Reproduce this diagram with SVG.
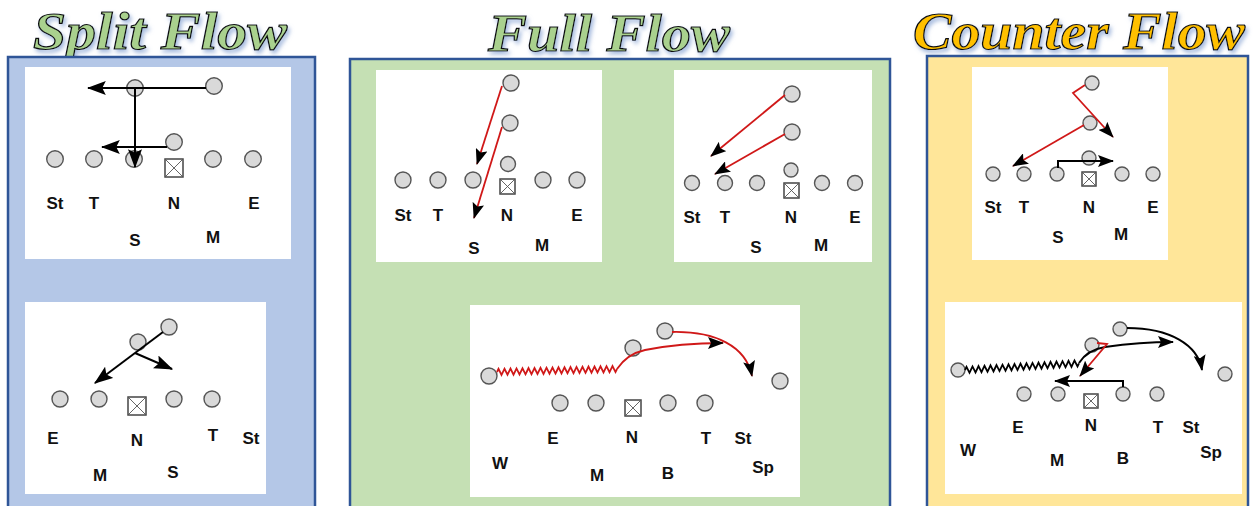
<svg xmlns="http://www.w3.org/2000/svg" width="1256" height="506" viewBox="0 0 1256 506">
<defs>
<style>
.title{font-family:"Liberation Serif","Times New Roman",serif;font-weight:bold;font-style:italic;font-size:53px;stroke:#111;stroke-width:1.2}
.lbl{font-family:"Liberation Sans",Arial,sans-serif;font-weight:bold;font-size:17px;fill:#111;text-anchor:middle}
.p{fill:#d9d9d9;stroke:#555;stroke-width:1.4}
.sq{fill:#fff;stroke:#444;stroke-width:1.5}
.x{stroke:#555;stroke-width:0.9}
.card{fill:#fff}
.blk{fill:none;stroke:#000;stroke-width:2}
.red{fill:none;stroke:#d01818;stroke-width:1.8}
</style>
<marker id="ah" viewBox="0 0 16 10" preserveAspectRatio="none" markerWidth="19" markerHeight="14" refX="15" refY="5" orient="auto" markerUnits="userSpaceOnUse"><path d="M0,0 L16,5 L0,10 L3,5 z" fill="#000"/></marker>
<marker id="ahs" viewBox="0 0 16 10" preserveAspectRatio="none" markerWidth="16" markerHeight="12" refX="15" refY="5" orient="auto" markerUnits="userSpaceOnUse"><path d="M0,0 L16,5 L0,10 L3,5 z" fill="#000"/></marker>
<filter id="glow" filterUnits="userSpaceOnUse" x="0" y="0" width="1256" height="70">
<feGaussianBlur in="SourceAlpha" stdDeviation="2"/>
<feOffset dx="2" dy="3" result="b"/>
<feFlood flood-color="#8fa9d6" flood-opacity="0.8"/>
<feComposite in2="b" operator="in" result="s"/>
<feMerge><feMergeNode in="s"/><feMergeNode in="SourceGraphic"/></feMerge>
</filter>
</defs>
<rect width="1256" height="506" fill="#fff"/>

<!-- Titles -->
<text class="title" x="33" y="49" textLength="254" lengthAdjust="spacingAndGlyphs" fill="#a9d18e" filter="url(#glow)">Split Flow</text>
<text class="title" x="488" y="51" textLength="242" lengthAdjust="spacingAndGlyphs" fill="#a9d18e" filter="url(#glow)">Full Flow</text>
<text class="title" x="913" y="49" textLength="332" lengthAdjust="spacingAndGlyphs" fill="#ffc000" filter="url(#glow)">Counter Flow</text>

<!-- Section boxes -->
<rect x="8" y="57" width="307" height="460" fill="#b4c7e7" stroke="#2f5597" stroke-width="2.5"/>
<rect x="350" y="59" width="540" height="460" fill="#c5e0b4" stroke="#2f5597" stroke-width="2.5"/>
<rect x="927" y="56" width="321" height="460" fill="#ffe699" stroke="#2f5597" stroke-width="2.5"/>

<!-- Split Flow top -->
<g id="split-top">
<rect class="card" x="25" y="67" width="266" height="192"/>
<g id="st-St"><circle class="p" cx="55" cy="159" r="8.3"/></g>
<g id="st-T"><circle class="p" cx="94" cy="159" r="8.3"/></g>
<g id="st-S"><circle class="p" cx="134" cy="159" r="8.3"/></g>
<g id="st-M"><circle class="p" cx="213" cy="159" r="8.3"/></g>
<g id="st-E"><circle class="p" cx="253" cy="159" r="8.3"/></g>
<g id="st-C"><rect class="sq" x="165" y="159" width="18" height="18"/><path class="x" d="M165,159L183,177M183,159L165,177"/></g>
<g id="st-B1"><circle class="p" cx="135" cy="88" r="8.3"/></g>
<g id="st-B2"><circle class="p" cx="214" cy="86" r="8.3"/></g>
<g id="st-B3"><circle class="p" cx="174" cy="142" r="8.3"/></g>
<text class="lbl" x="55" y="209">St</text><text class="lbl" x="94" y="209">T</text><text class="lbl" x="174" y="209">N</text><text class="lbl" x="254" y="209">E</text>
<text class="lbl" x="135" y="246">S</text><text class="lbl" x="213" y="243">M</text>
</g>

<!-- Split Flow bottom -->
<g id="split-bottom">
<rect class="card" x="25" y="302" width="241" height="192"/>
<g id="sb-E"><circle class="p" cx="60" cy="399" r="8"/></g>
<g id="sb-M"><circle class="p" cx="99" cy="399" r="8"/></g>
<g id="sb-S"><circle class="p" cx="174" cy="399" r="8"/></g>
<g id="sb-T"><circle class="p" cx="212" cy="399" r="8"/></g>
<g id="sb-C"><rect class="sq" x="128" y="397" width="18" height="18"/><path class="x" d="M128,397L146,415M146,397L128,415"/></g>
<g id="sb-B1"><circle class="p" cx="169" cy="327" r="8"/></g>
<g id="sb-B2"><circle class="p" cx="138" cy="342" r="8"/></g>
<text class="lbl" x="53" y="444">E</text><text class="lbl" x="137" y="446">N</text><text class="lbl" x="213" y="441">T</text><text class="lbl" x="251" y="444">St</text>
<text class="lbl" x="100" y="481">M</text><text class="lbl" x="173" y="478">S</text>
</g>

<!-- Full Flow top-left -->
<g id="full-top-left">
<rect class="card" x="376" y="70" width="226" height="192"/>
<g id="ftl-St"><circle class="p" cx="403" cy="180" r="8"/></g>
<g id="ftl-T"><circle class="p" cx="438" cy="180" r="8"/></g>
<g id="ftl-S"><circle class="p" cx="473" cy="180" r="8"/></g>
<g id="ftl-M"><circle class="p" cx="543" cy="180" r="8"/></g>
<g id="ftl-E"><circle class="p" cx="577" cy="180" r="8"/></g>
<g id="ftl-C"><rect class="sq" x="500" y="179" width="15" height="15"/><path class="x" d="M500,179L515,194M515,179L500,194"/></g>
<g id="ftl-Q"><circle class="p" cx="508" cy="164" r="7.5"/></g>
<g id="ftl-B1"><circle class="p" cx="511" cy="83" r="8"/></g>
<g id="ftl-B2"><circle class="p" cx="510" cy="123" r="8"/></g>
<text class="lbl" x="403" y="221">St</text><text class="lbl" x="438" y="221">T</text><text class="lbl" x="507" y="221">N</text><text class="lbl" x="577" y="221">E</text>
<text class="lbl" x="474" y="254">S</text><text class="lbl" x="542" y="251">M</text>
</g>

<!-- Full Flow top-right -->
<g id="full-top-right">
<rect class="card" x="674" y="70" width="198" height="192"/>
<g id="ftr-St"><circle class="p" cx="692" cy="183" r="7.5"/></g>
<g id="ftr-T"><circle class="p" cx="725" cy="183" r="7.5"/></g>
<g id="ftr-S"><circle class="p" cx="757" cy="183" r="7.5"/></g>
<g id="ftr-M"><circle class="p" cx="822" cy="183" r="7.5"/></g>
<g id="ftr-E"><circle class="p" cx="855" cy="183" r="7.5"/></g>
<g id="ftr-C"><rect class="sq" x="784" y="183" width="15" height="15"/><path class="x" d="M784,183L799,198M799,183L784,198"/></g>
<g id="ftr-Q"><circle class="p" cx="791" cy="170" r="7"/></g>
<g id="ftr-B1"><circle class="p" cx="792" cy="94" r="8"/></g>
<g id="ftr-B2"><circle class="p" cx="792" cy="132" r="8"/></g>
<text class="lbl" x="692" y="223">St</text><text class="lbl" x="725" y="223">T</text><text class="lbl" x="791" y="223">N</text><text class="lbl" x="855" y="223">E</text>
<text class="lbl" x="756" y="253">S</text><text class="lbl" x="821" y="251">M</text>
</g>

<!-- Full Flow bottom -->
<g id="full-bottom">
<rect class="card" x="470" y="305" width="330" height="192"/>
<g id="fb-E"><circle class="p" cx="560" cy="403" r="8"/></g>
<g id="fb-M"><circle class="p" cx="596" cy="403" r="8"/></g>
<g id="fb-B"><circle class="p" cx="668" cy="403" r="8"/></g>
<g id="fb-T"><circle class="p" cx="705" cy="403" r="8"/></g>
<g id="fb-C"><rect class="sq" x="625" y="400" width="16" height="16"/><path class="x" d="M625,400L641,416M641,400L625,416"/></g>
<g id="fb-W"><circle class="p" cx="489" cy="376" r="8"/></g>
<g id="fb-Sp"><circle class="p" cx="780" cy="381" r="8"/></g>
<g id="fb-Q1"><circle class="p" cx="633" cy="348" r="8"/></g>
<g id="fb-Q2"><circle class="p" cx="665" cy="331" r="8"/></g>
<text class="lbl" x="500" y="469">W</text><text class="lbl" x="553" y="444">E</text><text class="lbl" x="597" y="481">M</text><text class="lbl" x="632" y="443">N</text>
<text class="lbl" x="668" y="479">B</text><text class="lbl" x="706" y="444">T</text><text class="lbl" x="743" y="444">St</text><text class="lbl" x="763" y="473">Sp</text>
</g>

<!-- Counter Flow top -->
<g id="counter-top">
<rect class="card" x="972" y="67" width="196" height="193"/>
<g id="ct-St"><circle class="p" cx="993" cy="174" r="7"/></g>
<g id="ct-T"><circle class="p" cx="1024" cy="174" r="7"/></g>
<g id="ct-S"><circle class="p" cx="1057" cy="174" r="7"/></g>
<g id="ct-M"><circle class="p" cx="1122" cy="174" r="7"/></g>
<g id="ct-E"><circle class="p" cx="1153" cy="174" r="7"/></g>
<g id="ct-C"><rect class="sq" x="1082" y="172" width="14" height="14"/><path class="x" d="M1082,172L1096,186M1096,172L1082,186"/></g>
<g id="ct-Q"><circle class="p" cx="1089" cy="158" r="7"/></g>
<g id="ct-B1"><circle class="p" cx="1092" cy="83" r="7"/></g>
<g id="ct-B2"><circle class="p" cx="1090" cy="123" r="7"/></g>
<text class="lbl" x="993" y="213">St</text><text class="lbl" x="1024" y="213">T</text><text class="lbl" x="1089" y="213">N</text><text class="lbl" x="1153" y="213">E</text>
<text class="lbl" x="1058" y="243">S</text><text class="lbl" x="1121" y="240">M</text>
</g>

<!-- Counter Flow bottom -->
<g id="counter-bottom">
<rect class="card" x="945" y="302" width="297" height="192"/>
<g id="cb-E"><circle class="p" cx="1024" cy="394" r="7"/></g>
<g id="cb-M"><circle class="p" cx="1058" cy="394" r="7"/></g>
<g id="cb-B"><circle class="p" cx="1123" cy="394" r="7"/></g>
<g id="cb-T"><circle class="p" cx="1157" cy="394" r="7"/></g>
<g id="cb-C"><rect class="sq" x="1084" y="394" width="14" height="14"/><path class="x" d="M1084,394L1098,408M1098,394L1084,408"/></g>
<g id="cb-W"><circle class="p" cx="958" cy="370" r="7"/></g>
<g id="cb-Sp"><circle class="p" cx="1225" cy="374" r="7"/></g>
<g id="cb-Q1"><circle class="p" cx="1092" cy="345" r="7"/></g>
<g id="cb-Q2"><circle class="p" cx="1120" cy="329" r="7"/></g>
<text class="lbl" x="968" y="456">W</text><text class="lbl" x="1018" y="433">E</text><text class="lbl" x="1057" y="466">M</text><text class="lbl" x="1091" y="431">N</text>
<text class="lbl" x="1123" y="464">B</text><text class="lbl" x="1158" y="433">T</text><text class="lbl" x="1191" y="433">St</text><text class="lbl" x="1211" y="458">Sp</text>
</g>

<!-- Connectors -->
<g id="connectors">
<!-- Split top -->
<path class="blk" d="M206,88 L88,88" marker-end="url(#ah)"/>
<path class="blk" d="M135,88 L135,167" marker-end="url(#ah)"/>
<path class="blk" d="M167,147 L102,147" marker-end="url(#ah)"/>
<!-- Split bottom -->
<path class="blk" d="M163,332 L95,383" marker-end="url(#ah)"/>
<path class="blk" d="M135,353 L172,369" marker-end="url(#ah)"/>
<!-- Full top-left -->
<path class="red" d="M502,86 L477,164" marker-end="url(#ahs)"/>
<path class="red" d="M502,127 L474,218" marker-end="url(#ahs)"/>
<!-- Full top-right -->
<path class="red" d="M785,95 L711,156" marker-end="url(#ahs)"/>
<path class="red" d="M785,134 L715,174" marker-end="url(#ahs)"/>
<!-- Full bottom -->
<path class="red" d="M497,372 l1.5,-3.1l3,6l1.5,-3.05 l1.5,-3.1l3,6l1.5,-3.05 l1.5,-3.1l3,6l1.5,-3.05 l1.5,-3.1l3,6l1.5,-3.05 l1.5,-3.1l3,6l1.5,-3.05 l1.5,-3.1l3,6l1.5,-3.05 l1.5,-3.1l3,6l1.5,-3.05 l1.5,-3.1l3,6l1.5,-3.05 l1.5,-3.1l3,6l1.5,-3.05 l1.5,-3.1l3,6l1.5,-3.05 l1.5,-3.1l3,6l1.5,-3.05 l1.5,-3.1l3,6l1.5,-3.05 l1.5,-3.1l3,6l1.5,-3.05 l1.5,-3.1l3,6l1.5,-3.05 l1.5,-3.1l3,6l1.5,-3.05 l1.5,-3.1l3,6l1.5,-3.05 l1.5,-3.1l3,6l1.5,-3.05 l1.5,-3.1l3,6l1.5,-3.05 l1.5,-3.1l3,6l1.5,-3.05 l1.5,-3.1l3,6l1.5,-3.05"/>
<path class="red" d="M617,369 Q627,354 645,350 Q680,343 723,343" marker-end="url(#ahs)"/>
<path class="red" d="M672,332 C715,331 746,346 752,376" marker-end="url(#ahs)"/>
<!-- Counter top -->
<path class="red" d="M1085,85 L1073,93 L1113,137" marker-end="url(#ahs)"/>
<path class="red" d="M1084,125 L1013,166" marker-end="url(#ahs)"/>
<path class="blk" d="M1058,168 L1058,161 L1113,161" marker-end="url(#ahs)"/>
<!-- Counter bottom -->
<path class="blk" style="stroke-width:1.8" d="M965,370 l1.5,-3.2l3,6l1.5,-3.15 l1.5,-3.2l3,6l1.5,-3.15 l1.5,-3.2l3,6l1.5,-3.15 l1.5,-3.2l3,6l1.5,-3.15 l1.5,-3.2l3,6l1.5,-3.15 l1.5,-3.2l3,6l1.5,-3.15 l1.5,-3.2l3,6l1.5,-3.15 l1.5,-3.2l3,6l1.5,-3.15 l1.5,-3.2l3,6l1.5,-3.15 l1.5,-3.2l3,6l1.5,-3.15 l1.5,-3.2l3,6l1.5,-3.15 l1.5,-3.2l3,6l1.5,-3.15 l1.5,-3.2l3,6l1.5,-3.15 l1.5,-3.2l3,6l1.5,-3.15 l1.5,-3.2l3,6l1.5,-3.15 l1.5,-3.2l3,6l1.5,-3.15 l1.5,-3.2l3,6l1.5,-3.15 l1.5,-3.2l3,6l1.5,-3.15 l1.5,-3.2l3,6l1.5,-3.15"/>
<path class="blk" d="M1079,363 Q1087,350 1105,347 Q1140,342 1173,342" marker-end="url(#ahs)"/>
<path class="blk" d="M1127,328 C1170,328 1198,345 1202,370" marker-end="url(#ahs)"/>
<path class="red" d="M1097,343 L1107,344 L1080,376" marker-end="url(#ahs)"/>
<path class="blk" d="M1123,387 L1123,381 L1055,381" marker-end="url(#ahs)"/>
</g>
</svg>
